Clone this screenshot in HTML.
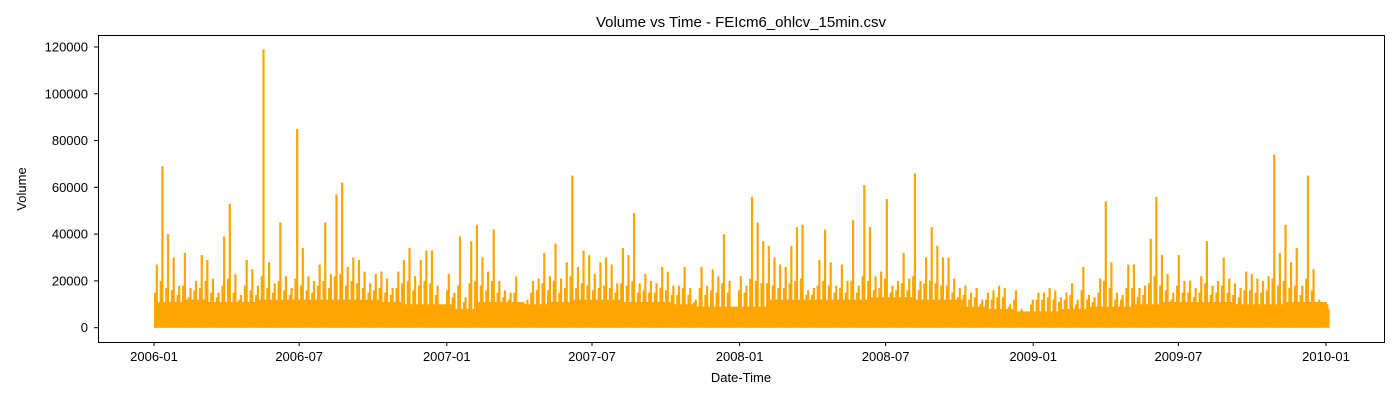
<!DOCTYPE html>
<html><head><meta charset="utf-8"><style>
html,body{margin:0;padding:0;background:#fff;}
svg text{font-family:"Liberation Sans","DejaVu Sans",sans-serif;fill:#000;}
</style></head><body>
<svg id="chart" width="1400" height="400" viewBox="0 0 1400 400" xmlns="http://www.w3.org/2000/svg">
<rect width="1400" height="400" fill="#fff"/>
<text x="741" y="27" font-size="15" text-anchor="middle">Volume vs Time - FEIcm6_ohlcv_15min.csv</text>
<g id="marks"></g>
<rect x="98.5" y="35.5" width="1286" height="307" fill="none" stroke="#000" stroke-width="1"/>
<g id="yaxis"></g>
<g id="xaxis"></g>
<text x="741" y="382" font-size="13" text-anchor="middle">Date-Time</text>
<text transform="translate(26,189) rotate(-90)" font-size="13" text-anchor="middle">Volume</text>
</svg>
<script>
const weeklyPeak = [
27000,69000,40000,30000,18000,32000,17000,20000,31000,29000,
21000,15000,39000,53000,23000,14000,29000,25000,18000,119000,
28000,19000,45000,22000,17000,85000,34000,22000,20000,27000,
45000,23000,57000,62000,26000,30000,29000,24000,19000,23000,
24000,21000,17000,24000,29000,34000,22000,29000,33000,33000,
18000,5000,23000,15000,39000,13000,37000,44000,30000,24000,
42000,20000,16000,15000,22000,10000,12000,20000,21000,32000,
22000,36000,21000,28000,65000,26000,33000,31000,23000,28000,
30000,27000,19000,34000,31000,49000,19000,23000,20000,19000,
26000,24000,18000,18000,26000,17000,12000,26000,18000,25000,
22000,40000,20000,6000,22000,18000,56000,45000,37000,35000,
30000,27000,26000,35000,43000,44000,16000,17000,29000,42000,
28000,18000,27000,20000,46000,18000,61000,43000,22000,24000,
55000,18000,20000,32000,21000,66000,20000,30000,43000,35000,
30000,30000,21000,17000,18000,15000,17000,12000,15000,16000,
18000,17000,10000,16000,8000,5000,12000,15000,15000,17000,
16000,13000,15000,19000,12000,26000,14000,13000,21000,54000,
28000,15000,14000,27000,27000,17000,18000,38000,56000,31000,
23000,15000,31000,20000,20000,17000,22000,37000,18000,20000,
30000,21000,19000,17000,24000,23000,21000,20000,22000,74000,
32000,44000,28000,34000,18000,65000,25000,12000,11000,10000];
const weeklySecond = [
15000,20000,17000,16000,14000,18000,13000,16000,17000,20000,
15000,13000,18000,21000,15000,12000,18000,16000,14000,22000,
17000,15000,20000,16000,14000,21000,18000,16000,15000,18000,
20000,17000,22000,23000,18000,20000,19000,17000,15000,16000,
17000,15000,14000,17000,19000,20000,16000,18000,20000,19000,
14000,4000,16000,13000,18000,11000,19000,20000,18000,16000,
20000,15000,13000,12000,15000,9000,10000,15000,16000,19000,
16000,20000,15000,17000,22000,17000,19000,18000,16000,17000,
18000,17000,15000,19000,18000,20000,15000,16000,15000,15000,
17000,16000,14000,14000,17000,14000,11000,17000,14000,16000,
15000,19000,15000,5000,16000,15000,21000,20000,19000,19000,
18000,17000,17000,19000,20000,21000,14000,14000,18000,20000,
18000,15000,17000,15000,20000,15000,22000,20000,16000,17000,
21000,15000,16000,19000,16000,22000,16000,19000,20000,19000,
18000,18000,15000,13000,14000,12000,13000,10000,12000,12000,
13000,13000,9000,12000,7000,4000,10000,12000,12000,13000,
12000,11000,12000,14000,10000,16000,12000,11000,15000,20000,
17000,12000,12000,17000,17000,13000,14000,19000,22000,18000,
16000,12000,18000,15000,15000,13000,15000,19000,14000,15000,
18000,15000,14000,13000,16000,16000,15000,15000,16000,21000,
18000,20000,17000,18000,14000,21000,16000,10000,9000,8000];
const monthlyBase = [
11000,12000,11000,11000,12000,12000,12000,12000,12000,11000,10000,10000,
8000,11000,11000,10000,11000,12000,12000,11000,11000,10000,9000,9000,
9000,12000,12000,12000,12000,13000,13000,12000,12000,9000,8000,7000,
7000,8000,9000,9000,10000,11000,11000,11000,10000,10000,11000,11000];
const yTicks = [0,20000,40000,60000,80000,100000,120000];
const xTickLabels = ["2006-01","2006-07","2007-01","2007-07","2008-01","2008-07","2009-01","2009-07","2010-01"];
const xTickDays = [0,181,365,546,730,912,1096,1277,1461];

const NS="http://www.w3.org/2000/svg";
const y = v => 327.7 - v*(327.7-47)/120000;
const xDay = d => 154 + d*(1326-154)/1461;
const xWeek = i => xDay(i*7);
const marks=document.getElementById('marks');
const nW=weeklyPeak.length;
let d='M'+xWeek(0)+','+y(0);
for(let i=0;i<nW;i++){
  const x0=xWeek(i), x1=Math.min(xWeek(i+1),1327);
  const b=monthlyBase[Math.min(Math.floor(i*7/30.44),monthlyBase.length-1)];
  d+=' L'+x0+','+y(b)+' L'+x1+','+y(b);
}
d+=' L'+Math.min(xWeek(nW),1327)+','+y(0)+' Z';
const base=document.createElementNS(NS,'path');


base.setAttribute('d',d);base.setAttribute('fill','#ffa500');
marks.appendChild(base);
for(let i=0;i<nW;i++){
  const x0=xWeek(i), x1=Math.min(xWeek(i+1),1327);
  const xm=(x0+x1)/2;
  const s=document.createElementNS(NS,'line');
  
  
  s.setAttribute('x1',x0+1);s.setAttribute('x2',x0+1);
  s.setAttribute('y1',y(0));s.setAttribute('y2',y(weeklySecond[i]));
  s.setAttribute('stroke','#ffa500');s.setAttribute('stroke-width','2');
  marks.appendChild(s);
  const l=document.createElementNS(NS,'line');
  
  
  l.setAttribute('x1',xm);l.setAttribute('x2',xm);
  l.setAttribute('y1',y(0));l.setAttribute('y2',y(weeklyPeak[i]));
  l.setAttribute('stroke','#ffa500');l.setAttribute('stroke-width','2.2');
  marks.appendChild(l);
}
const ya=document.getElementById('yaxis');
yTicks.forEach(v=>{
  const t=document.createElementNS(NS,'line');
  
  
  t.setAttribute('x1',94);t.setAttribute('x2',98);t.setAttribute('y1',y(v));t.setAttribute('y2',y(v));
  t.setAttribute('stroke','#000');ya.appendChild(t);
  const tx=document.createElementNS(NS,'text');
  
  
  tx.setAttribute('x',88);tx.setAttribute('y',y(v)+4.5);tx.setAttribute('font-size','13');
  tx.setAttribute('text-anchor','end');tx.textContent=v;ya.appendChild(tx);
});
const xa=document.getElementById('xaxis');
xTickLabels.forEach((lab,i)=>{
  const xx=xDay(xTickDays[i]);
  const t=document.createElementNS(NS,'line');
  
  
  t.setAttribute('x1',xx);t.setAttribute('x2',xx);t.setAttribute('y1',342);t.setAttribute('y2',346);
  t.setAttribute('stroke','#000');xa.appendChild(t);
  const tx=document.createElementNS(NS,'text');
  
  
  tx.setAttribute('x',xx);tx.setAttribute('y',361);tx.setAttribute('font-size','13');
  tx.setAttribute('text-anchor','middle');tx.textContent=lab;xa.appendChild(tx);
});
</script>
</body></html>
